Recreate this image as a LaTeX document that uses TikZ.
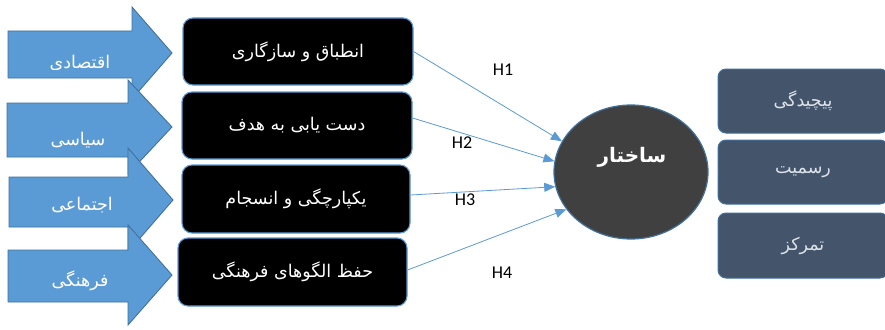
\documentclass[tikz,border=0pt]{standalone}
\usepackage{fontspec}
\setmainfont{Carlito}
\newfontfamily\fa[Script=Arabic]{DejaVu Sans}
\TeXXeTstate=1
\usetikzlibrary{shapes.geometric,arrows.meta}
\definecolor{arrfill}{HTML}{5B9BD5}
\definecolor{arredge}{HTML}{41719C}
\definecolor{ellfill}{HTML}{404040}
\definecolor{rbfill}{HTML}{44546A}
\definecolor{rbtext}{HTML}{DDE3EA}
\begin{document}
\begin{tikzpicture}[x=1pt,y=-1pt,
  blockarr/.style={fill=arrfill,draw=arredge,line width=0.9pt,line join=miter},
  arrtext/.style={text=white,font=\fa\fontsize{17.5}{20}\selectfont,inner sep=0pt},
  bbox/.style={fill=black,draw=arrfill,line width=1.1pt,rounded corners=10pt,
    minimum width=230pt,minimum height=67pt,text=white,
    font=\fa\fontsize{17.5}{20}\selectfont,inner sep=0pt},
  rbox/.style={fill=rbfill,draw=arredge,line width=1pt,rounded corners=8pt,
    minimum width=170pt,minimum height=64pt,text=rbtext,
    font=\fa\fontsize{17.5}{20}\selectfont,inner sep=0pt},
  conn/.style={draw=arrfill,line width=0.8pt,-{Triangle[length=11pt,width=9pt]}},
  hlab/.style={font=\fontsize{18}{20}\selectfont,text=black,inner sep=0pt}]
\clip (0,0) rectangle (885,329);
\fill[white] (0,0) rectangle (885,329);
% block arrows
\filldraw[blockarr] (8,31) -- (132,31) -- (132,7) -- (172,53) -- (132,99) -- (132,78) -- (8,78) -- cycle;
\begin{scope}
\clip (0,0) rectangle (172,69);
\node[arrtext] (t1) at (80,63) {\beginR اقتصادی\endR};
\end{scope}
\filldraw[blockarr] (7,103) -- (128,103) -- (128,80) -- (172,127) -- (128,174) -- (128,157) -- (7,157) -- cycle;
\node[arrtext] (t2) at (78,140) {\beginR سیاسی\endR};
\filldraw[blockarr] (9,177) -- (128,177) -- (128,148) -- (173,200) -- (128,252) -- (128,227) -- (9,227) -- cycle;
\node[arrtext] (t3) at (82,205) {\beginR اجتماعی\endR};
\filldraw[blockarr] (8,250) -- (128,250) -- (128,225) -- (172,275) -- (128,325) -- (128,302) -- (8,302) -- cycle;
\node[arrtext] (t4) at (80,281) {\beginR فرهنگی\endR};
% black boxes
\node[bbox] (b1) at (298,51.5) {\beginR انطباق و سازگاری\endR};
\node[bbox] (b2) at (297,125.5) {\beginR دست یابی به هدف\endR};
\node[bbox,minimum width=228pt,minimum height=68pt] (b3) at (296,199) {\beginR یکپارچگی و انسجام\endR};
\node[bbox,minimum width=229pt,minimum height=68pt] (b4) at (292.5,272) {\beginR حفظ الگوهای فرهنگی\endR};
% ellipse
\node[ellipse,fill=ellfill,draw=arredge,line width=1.2pt,minimum width=154pt,minimum height=134pt,inner sep=0pt] (ell) at (631,172) {};
\node[text=white,font=\fa\bfseries\fontsize{20}{22}\selectfont,inner sep=0pt] (elltext) at (632,157) {\beginR ساختار\endR};
% connectors
\draw[conn] (b1.east) -- (ell.156);
\draw[conn] ([yshift=7.5pt]b2.east) -- (ell.172.5);
\draw[conn] ([yshift=4pt]b3.east) -- (ell.191);
\draw[conn] ([yshift=2pt]b4.east) -- (ell.210.7);
% labels
\node[hlab] (h1) at (503,70) {H1};
\node[hlab] (h2) at (462,143) {H2};
\node[hlab] (h3) at (465,200) {H3};
\node[hlab] (h4) at (502,273) {H4};
% right boxes
\node[rbox] (r1) at (803,101) {\beginR پیچیدگی\endR};
\node[rbox] (r2) at (803,172) {\beginR رسمیت\endR};
\node[rbox,minimum height=65pt] (r3) at (803,245.5) {\beginR تمرکز\endR};
\end{tikzpicture}
\end{document}
